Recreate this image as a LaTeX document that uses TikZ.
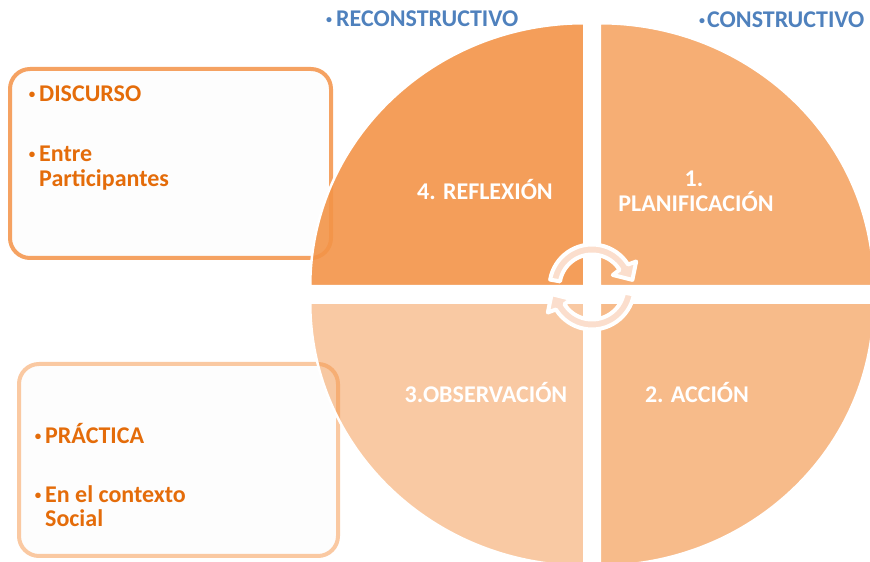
\documentclass[tikz,border=0pt]{standalone}
\usepackage{fontspec}
\setmainfont{Carlito}
\usetikzlibrary{calc}

\definecolor{basecol}{RGB}{243,148,72}
\definecolor{boxtxt}{RGB}{228,108,10}
\definecolor{bluetxt}{RGB}{79,129,189}
\definecolor{arrowfill}{RGB}{251,222,205}
\definecolor{topframe}{RGB}{245,162,98}
\definecolor{botframe}{RGB}{250,201,162}
\definecolor{boxbg}{RGB}{253,253,253}

\newcommand{\cyclearrow}{%
  \draw[cyc] ($(o1)+(170:42.5)$) arc[start angle=170, end angle=32, radius=42.5]
    -- ($(o1)+(30:51)$) -- ($(o1)+(10:41)$) -- ($(o1)+(30:24)$)
    -- ($(o1)+(32:32.5)$) arc[start angle=32, end angle=170, radius=32.5] -- cycle;}

\begin{document}
\begin{tikzpicture}[x=1pt,y=1pt,
  quad/.style={fill=basecol, draw=white, line width=2.5pt, line join=round},
  sidebox/.style={draw, line width=4pt, rounded corners=20pt, fill=boxbg},
  qlabel/.style={text=white, font=\bfseries\fontsize{24}{26}\selectfont, inner sep=0pt},
  boxlabel/.style={text=boxtxt, font=\bfseries\fontsize{24}{26}\selectfont, inner sep=0pt, anchor=base west},
  bullet/.style={text=boxtxt, font=\bfseries\fontsize{13}{14}\selectfont, inner sep=0pt, anchor=base},
  toplabel/.style={text=bluetxt, font=\bfseries\fontsize{24}{26}\selectfont, inner sep=0pt, anchor=base west},
  topbullet/.style={text=bluetxt, font=\bfseries\fontsize{12}{14}\selectfont, inner sep=0pt, anchor=base},
  cyc/.style={fill=arrowfill, draw=white, line width=4pt, line join=round}]
\useasboundingbox (0,0) rectangle (870,562);

% side boxes
\node[sidebox, draw=topframe, minimum width=321pt, minimum height=189pt] (discbox) at (170.5,398.5) {};
\node[sidebox, draw=botframe, minimum width=319pt, minimum height=192pt] (pracbox) at (178.5,102) {};

% headings above the cycle
\node[topbullet] (rb) at (329,538) {•};
\node[toplabel] (recons) at (336,535) {RECONSTRUCTIVO};
\node[topbullet] (cb) at (702,537) {•};
\node[toplabel] (cons) at (707,534) {CONSTRUCTIVO};

% four quadrants of the cycle
\path[quad, fill opacity=0.9]  (584.25,275.75) -- ++(-274,0) arc[start angle=180, end angle=90, x radius=274, y radius=263] -- cycle;
\path[quad, fill opacity=0.76] (599.75,275.75) -- ++(0,263) arc[start angle=90, end angle=0, x radius=274, y radius=263] -- cycle;
\path[quad, fill opacity=0.64] (599.75,259.25) -- ++(274,0) arc[start angle=0, end angle=-90, x radius=274, y radius=263] -- cycle;
\path[quad, fill opacity=0.5]  (584.25,259.25) -- ++(0,-263) arc[start angle=270, end angle=180, x radius=274, y radius=263] -- cycle;

% quadrant labels
\node[qlabel, anchor=base] (refl) at (485,362) {4. REFLEXIÓN};
\node[qlabel, anchor=base] (plan1) at (694,375) {1.};
\node[qlabel, anchor=base] (plan2) at (696,350) {PLANIFICACIÓN};
\node[qlabel, anchor=base] (obs) at (486,159) {3.OBSERVACIÓN};
\node[qlabel, anchor=base] (acc) at (697,159) {2. ACCIÓN};

% circular arrows in the middle
\coordinate (o1) at (592,275);
\coordinate (rc) at (591,269.5);
\cyclearrow
\begin{scope}[rotate around={180:(rc)}]
  \cyclearrow
\end{scope}

% texts in the side boxes
\node[bullet] (b1) at (32,463) {•};
\node[boxlabel] (disc) at (39,460) {DISCURSO};
\node[bullet] (b2) at (32,403) {•};
\node[boxlabel] (entre) at (39,400) {Entre};
\node[boxlabel] (part) at (39,375) {Participantes};
\node[bullet] (b3) at (38,121) {•};
\node[boxlabel] (prac) at (45,118) {PRÁCTICA};
\node[bullet] (b4) at (38,62) {•};
\node[boxlabel] (ctx) at (45,59) {En el contexto};
\node[boxlabel] (soc) at (45,35) {Social};
\end{tikzpicture}
\end{document}
